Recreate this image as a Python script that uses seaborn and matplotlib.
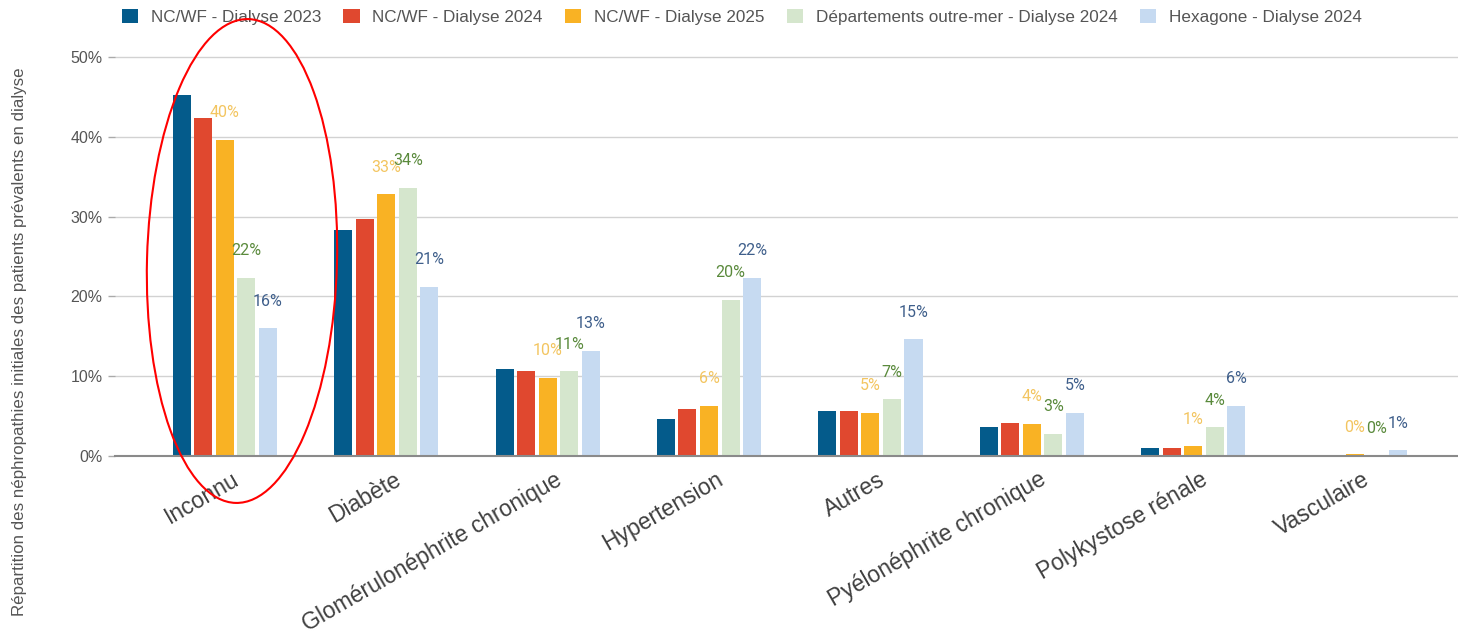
import matplotlib
matplotlib.use("Agg")
import matplotlib.pyplot as plt
import seaborn as sns
import pandas as pd
from matplotlib.patches import Ellipse
from matplotlib.transforms import IdentityTransform, ScaledTranslation
from matplotlib.ticker import FuncFormatter

# ---------------- data ----------------
categories = ["Inconnu", "Diabète", "Glomérulonéphrite chronique", "Hypertension",
              "Autres", "Pyélonéphrite chronique", "Polykystose rénale", "Vasculaire"]
series_names = ["NC/WF - Dialyse 2023", "NC/WF - Dialyse 2024", "NC/WF - Dialyse 2025",
                "Départements outre-mer - Dialyse 2024", "Hexagone - Dialyse 2024"]
nc_wf_2023 = [45.2, 28.3, 10.9, 4.6, 5.7, 3.6, 1.0, 0.0]
nc_wf_2024 = [42.4, 29.7, 10.6, 5.9, 5.6, 4.1, 1.0, 0.0]
nc_wf_2025 = [39.6, 32.8, 9.8, 6.3, 5.4, 4.0, 1.2, 0.2]
dom_2024 = [22.3, 33.6, 10.6, 19.6, 7.1, 2.8, 3.6, 0.1]
hexagone_2024 = [16.0, 21.2, 13.2, 22.3, 14.6, 5.4, 6.3, 0.7]
y_ticks = [0, 10, 20, 30, 40, 50]
y_label = "Répartition des néphropathies initiales des patients prévalents en dialyse"

series_values = [nc_wf_2023, nc_wf_2024, nc_wf_2025, dom_2024, hexagone_2024]
bar_colors = ["#045b8b", "#e0482f", "#f9b224", "#d5e6cd", "#c6daf1"]
label_colors = [None, None, "#f3c560", "#5a8a3c", "#3f5f8b"]

rows = []
for name, vals in zip(series_names, series_values):
    for c, v in zip(categories, vals):
        rows.append({"cat": c, "series": name, "val": v})
df = pd.DataFrame(rows)

# ---------------- figure ----------------
sns.set_theme(style="white")
plt.rcParams["font.family"] = ["Liberation Sans", "DejaVu Sans"]

fig = plt.figure(figsize=(14.58, 6.35), dpi=100)
ax = fig.add_axes([115 / 1458, 1 - 456 / 635, 1 - 115 / 1458, (456 - 49) / 635])

sns.barplot(data=df, x="cat", y="val", hue="series", order=categories,
            hue_order=series_names, palette=bar_colors, width=0.667, gap=0.163,
            saturation=1, ax=ax, linewidth=0)

ax.set_xlabel("")
ax.set_ylabel("")
ax.set_ylim(0, 51)
ax.set_xlim(-0.68, 7.64)
ax.set_yticks(y_ticks)
ax.yaxis.set_major_formatter(FuncFormatter(lambda v, p: f"{v:.0f}%"))
ax.yaxis.grid(True, color="#d2d2d2", lw=1)
ax.set_axisbelow(True)
for s in ["left", "right", "top"]:
    ax.spines[s].set_visible(False)
ax.spines["bottom"].set_color("#8a8a8a")
ax.spines["bottom"].set_linewidth(1.5)

ax.tick_params(axis="y", length=5, color="#aaaaaa", width=1, labelsize=11.5,
               labelcolor="#555555", pad=4, left=True)
ax.tick_params(axis="x", length=0, pad=0)
ax.set_xticks(range(len(categories)))
ax.set_xticklabels(categories, rotation=30, ha="right", va="top",
                   rotation_mode="anchor", fontsize=16.5, color="#404040")
off = ScaledTranslation(0.07, -0.12, fig.dpi_scale_trans)
for lab in ax.get_xticklabels():
    lab.set_transform(lab.get_transform() + off)

# data labels for the last three series
for i, cont in enumerate(ax.containers):
    if label_colors[i] is None:
        continue
    for bar, v in zip(cont, series_values[i]):
        ax.annotate(f"{v:.0f}%", (bar.get_x() + bar.get_width() / 2, bar.get_height()),
                    xytext=(0, 19.5), textcoords="offset points", ha="center",
                    va="center", fontsize=11.5, color=label_colors[i],
                    family=["Roboto", "DejaVu Sans"])

# legend
sns.move_legend(ax, "center", bbox_to_anchor=(0.4666, 1.079), ncol=5, frameon=False,
                fontsize=12.3, handlelength=0.95, handleheight=0.95,
                handletextpad=0.75, columnspacing=1.3, title=None)
for t in ax.get_legend().get_texts():
    t.set_color("#555555")

fig.text(20 / 1458, 1 - 342 / 635, y_label, rotation=90, ha="center", va="center",
         fontsize=12.2, color="#555555")

# red ellipse highlight
ell = Ellipse((242, 635 - 261), 190, 484, angle=-1.5, transform=IdentityTransform(),
              fill=False, edgecolor="#ff0000", lw=1.5, clip_on=False)
fig.add_artist(ell)

fig.savefig("out.png", dpi=100)
